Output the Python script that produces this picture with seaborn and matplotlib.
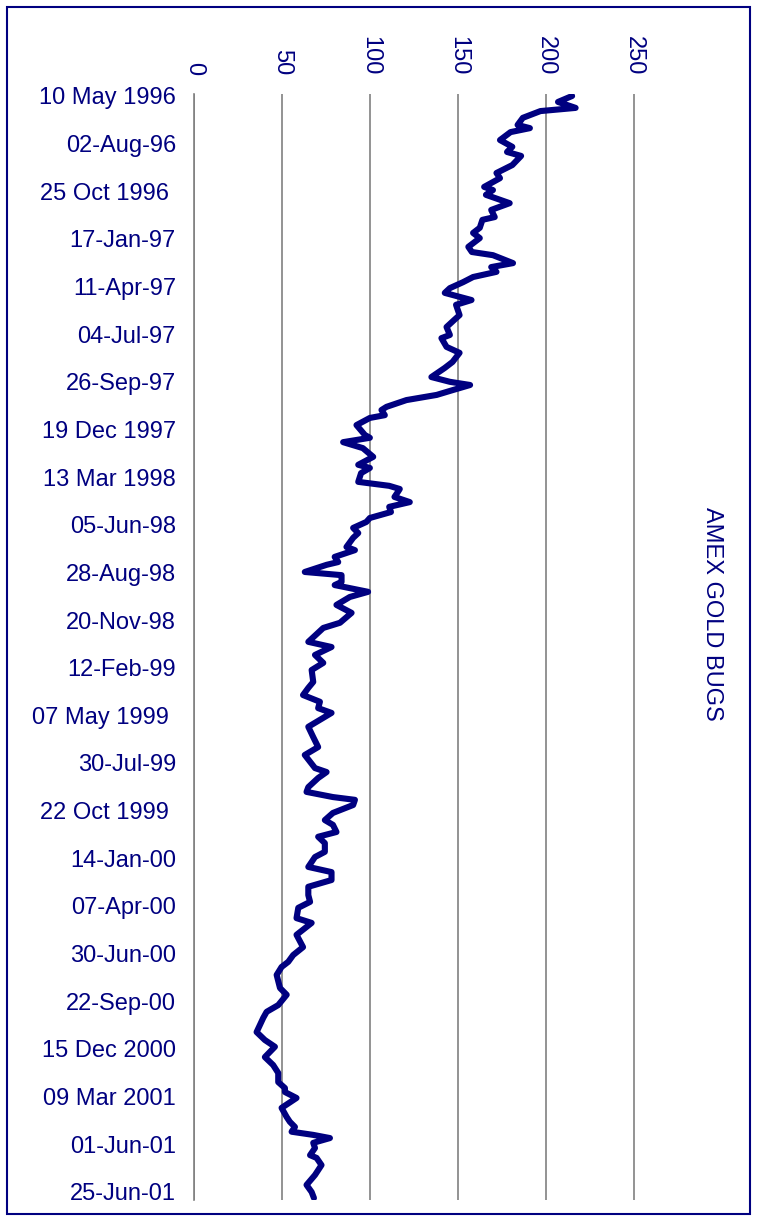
import matplotlib
matplotlib.use('Agg')
import matplotlib.pyplot as plt
from matplotlib.patches import Rectangle
import seaborn as sns
import pandas as pd

# weekly position (0 = 10 May 1996) and index value
weeks = [0, 1.5, 3.0, 3.8, 5.5, 7.3, 8.1, 9.1, 11.1, 12.8, 14.1, 15.1, 17.4, 19.4, 20.7,
         22.9, 23.7, 24.9, 27.0, 28.7, 30.5, 31.2, 33.2, 34.5, 35.8, 38.0, 39.3, 40.1, 42.1,
         43.1, 44.3, 45.6, 46.9, 48.4, 49.6, 51.4, 52.6, 55.2, 56.4, 58.2, 60.2, 61.0, 63.2,
         64.7, 67.0, 68.5, 70.8, 72.0, 72.8, 74.1, 75.3, 76.6, 78.3, 79.1, 80.4, 81.1, 82.9,
         85.4, 86.1, 87.2, 88.7, 90.9, 92.9, 93.7, 95.0, 97.2, 98.2, 99.0, 99.7, 101.0, 102.3,
         103.5, 104.8, 106.3, 107.3, 108.8, 110.1, 111.3, 113.6, 114.4, 116.1, 117.4, 118.1,
         119.9, 120.7, 122.4, 123.2, 124.9, 126.2, 128.2, 130.2, 132.7, 134.0, 137.5, 138.8,
         140.8, 142.8, 144.6, 147.6, 149.1, 150.9, 152.6, 154.2, 155.4, 158.9, 161.5, 164.0,
         166.0, 169.3, 170.3, 171.8, 174.1, 175.3, 176.6, 177.3, 178.6, 180.6, 182.4, 183.6,
         185.4, 186.6, 188.2, 190.4, 191.7, 194.2, 195.5, 197.5, 199.2, 201.3, 203.0, 204.5,
         207.1, 208.3, 211.3, 214.4, 216.4, 218.1, 219.4, 221.4, 224.7, 226.4, 229.0, 230.7,
         232.2, 235.8, 237.8, 239.5, 242.1, 244.1, 246.1, 248.4, 249.9, 250.9, 252.4, 254.9,
         257.2, 258.4, 259.7, 260.9, 261.7, 262.5, 263.7, 265.0, 266.8, 267.5, 269.3, 271.8,
         274.3, 276.1, 277.6]
gold_bugs = [215, 207, 217, 197, 187, 184, 191, 180, 174, 181, 178, 186, 181, 172, 174,
             165, 170, 166, 179.5, 169, 171, 164, 162.5, 158.7, 162.5, 156, 158, 170, 181.4,
             169, 172, 158.7, 153, 145.5, 142.6, 157.8, 149, 151, 148, 143.6, 145.5, 140.7, 143.6,
             151, 147, 142.6, 135, 145.5, 157, 147, 138, 120.8, 109.5, 106.6, 108.5, 100, 92.4,
             97.2, 100, 84.8, 96, 101.9, 93.4, 100, 95, 93.4, 111, 117, 116, 114, 122.7,
             111, 112, 100, 98, 90.5, 93.4, 90.5, 86.7, 91.5, 80, 82, 75.4,
             63, 83.9, 83.9, 80, 99, 88.6, 81, 89.6, 83, 73.5, 65, 78.2,
             68.8, 73.5, 66.9, 67.8, 65, 62, 71.6, 70.6, 78.2, 65, 67.8, 70.6,
             63, 68.8, 75.4, 70.6, 65, 64, 79, 91.5, 90.5, 79, 74.4, 79,
             81, 70.6, 74.4, 74.4, 68.8, 65, 78.2, 78.2, 65, 65, 66, 59.3,
             58.3, 66.9, 58.3, 62, 56.4, 53.6, 49.8, 47, 48.9, 52.7, 47.9, 41.3,
             39.4, 35.6, 40.3, 46, 40.3, 45, 47.9, 47.9, 51.7, 51.7, 58.3, 49.8,
             52.7, 54.5, 57.4, 55.5, 67.8, 77.3, 67.8, 68.8, 66, 69.7, 72.5, 68.8,
             64, 66.9, 68.2]

tick_weeks = list(range(0, 265, 12)) + [276]
date_labels = ['10 May 1996', '02-Aug-96', '25 Oct 1996 ', '17-Jan-97', '11-Apr-97',
               '04-Jul-97', '26-Sep-97', '19 Dec 1997', '13 Mar 1998', '05-Jun-98',
               '28-Aug-98', '20-Nov-98', '12-Feb-99', '07 May 1999 ', '30-Jul-99',
               '22 Oct 1999 ', '14-Jan-00', '07-Apr-00', '30-Jun-00', '22-Sep-00',
               '15 Dec 2000', '09 Mar 2001', '01-Jun-01', '25-Jun-01']
value_ticks = [0, 50, 100, 150, 200, 250]

navy = '#000080'

sns.set_style('white')
plt.rcParams['font.family'] = ['Liberation Sans', 'DejaVu Sans']

df = pd.DataFrame({'week': weeks, 'value': gold_bugs})

fig = plt.figure(figsize=(7.58, 12.23), dpi=100)
ax = fig.add_axes([194 / 758, 1 - 1200 / 1223, 510 / 758, 1106 / 1223])

sns.lineplot(data=df, x='value', y='week', orient='y', sort=False, estimator=None,
             color=navy, linewidth=4.4, ax=ax)

ax.set_xlim(0, 290)
ax.set_ylim(278.1, -0.5)

# value axis on top, labels turned like the rotated page
ax.xaxis.tick_top()
ax.set_xticks(value_ticks)
ax.set_xticklabels([str(v) for v in value_ticks], rotation=-90, color=navy, fontsize=17)
ax.set_yticks(tick_weeks)
ax.set_yticklabels(date_labels, color=navy, fontsize=17)
ax.tick_params(axis='x', length=0, pad=13.5)
ax.tick_params(axis='y', length=0, pad=13)
ax.set_xlabel('')
ax.set_ylabel('')

ax.grid(axis='x', color='#808080', linewidth=1.2)
ax.grid(axis='y', visible=False)
for s in ['top', 'right', 'bottom']:
    ax.spines[s].set_visible(False)
ax.spines['left'].set_color('#808080')
ax.spines['left'].set_linewidth(1.2)

fig.text(712 / 758, 1 - 614 / 1223, 'AMEX GOLD BUGS', rotation=-90, color=navy,
         fontsize=17, ha='center', va='center')

fig.patches.append(Rectangle((7 / 758, 1 - 1214 / 1223), 743 / 758, 1207 / 1223,
                             transform=fig.transFigure, fill=False,
                             edgecolor=navy, linewidth=1.5))

fig.savefig('out.png', dpi=100)
